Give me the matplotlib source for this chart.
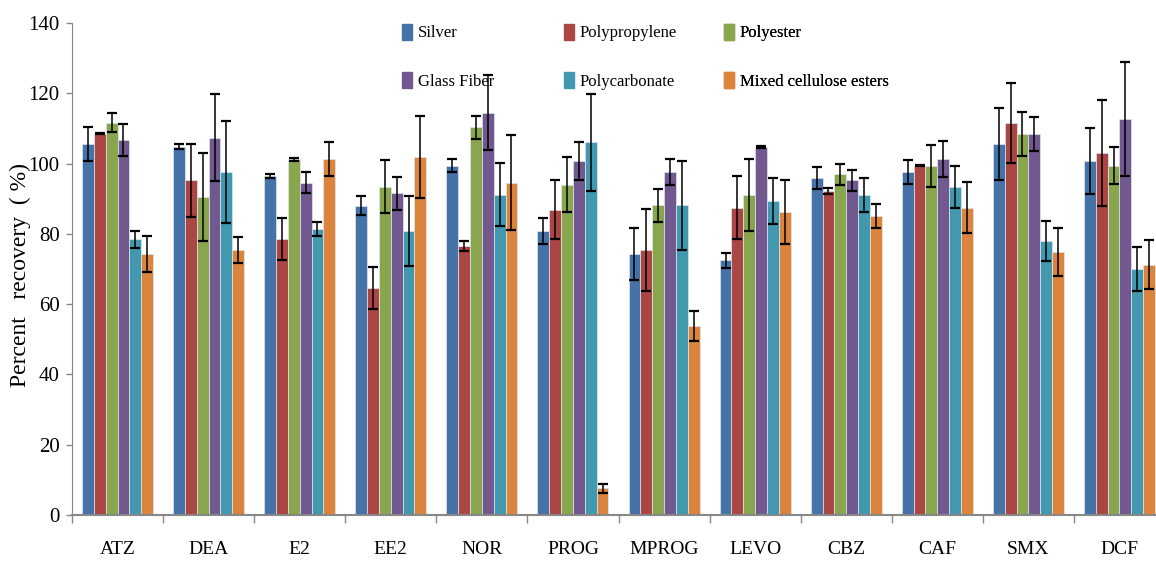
import numpy as np
import matplotlib.pyplot as plt
from matplotlib.patches import Patch

compounds = ['ATZ', 'DEA', 'E2', 'EE2', 'NOR', 'PROG', 'MPROG', 'LEVO', 'CBZ', 'CAF', 'SMX', 'DCF']
filters = ['Silver', 'Polypropylene', 'Polyester', 'Glass Fiber', 'Polycarbonate', 'Mixed cellulose esters']
colors = ['#4572A7', '#AA4643', '#89A54E', '#71588F', '#4198AF', '#DB843D']

# Mittelwerte je Filter (%)
silver = [105.5, 104.8, 96.5, 88.0, 99.4, 80.8, 74.3, 72.5, 95.9, 97.6, 105.5, 100.6]
polypropylene = [108.5, 95.2, 78.5, 64.6, 76.6, 86.8, 75.4, 87.5, 92.2, 99.4, 111.6, 103.0]
polyester = [111.6, 90.5, 101.2, 93.4, 110.3, 94.0, 88.1, 91.1, 97.0, 99.4, 108.4, 99.4]
glass_fiber = [106.7, 107.4, 94.6, 91.5, 114.5, 100.6, 97.6, 104.8, 95.2, 101.3, 108.4, 112.7]
polycarbonate = [78.5, 97.6, 81.4, 80.8, 91.1, 106.0, 88.1, 89.3, 91.1, 93.4, 77.9, 70.0]
mixed_cellulose = [74.3, 75.4, 101.3, 101.9, 94.6, 7.6, 53.8, 86.2, 85.1, 87.5, 74.8, 71.2]

# Standardabweichungen
silver_sd = [4.9, 0.7, 0.5, 2.7, 1.8, 3.6, 7.5, 2.1, 3.0, 3.4, 10.3, 9.4]
polypropylene_sd = [0.2, 10.5, 6.0, 6.0, 1.5, 8.4, 11.8, 9.0, 0.9, 0.2, 11.4, 15.0]
polyester_sd = [2.75, 12.6, 0.5, 7.5, 3.3, 7.9, 4.8, 10.2, 3.0, 6.0, 6.3, 5.2]
glass_fiber_sd = [4.5, 12.5, 3.0, 4.8, 10.6, 5.4, 3.6, 0.3, 3.1, 5.1, 4.8, 16.2]
polycarbonate_sd = [2.4, 14.4, 2.0, 10.0, 9.0, 13.9, 12.6, 6.6, 4.8, 6.0, 5.7, 6.3]
mixed_cellulose_sd = [5.2, 3.6, 4.8, 11.7, 13.6, 1.2, 4.2, 9.0, 3.4, 7.2, 6.9, 7.0]

means = [silver, polypropylene, polyester, glass_fiber, polycarbonate, mixed_cellulose]
sds = [silver_sd, polypropylene_sd, polyester_sd, glass_fiber_sd, polycarbonate_sd, mixed_cellulose_sd]

serif = 'Liberation Serif'

fig = plt.figure(figsize=(11.56, 5.68), dpi=100)
ax = fig.add_axes([72 / 1156, 53 / 568, 1093 / 1156, 492 / 568])

x = np.arange(len(compounds)) + 0.5
width = 0.13
for i in range(6):
    pos = x - 2.5 * width + i * width
    ax.bar(pos, means[i], width, color=colors[i], edgecolor='#dfe6ee', linewidth=0.5,
           yerr=sds[i], error_kw=dict(ecolor='black', elinewidth=1.1, capsize=3.6, capthick=1.6))

ax.set_xlim(0, len(compounds))
ax.set_ylim(0, 140)
ax.set_yticks(range(0, 141, 20))
ax.set_xticks(np.arange(len(compounds) + 1))
ax.set_xticklabels([])
ax.set_xticks(x, minor=True)
ax.set_xticklabels(compounds, minor=True, fontfamily=serif, fontsize=14)
ax.tick_params(axis='x', which='major', length=6, width=1, color='#888888', direction='out')
ax.tick_params(axis='x', which='minor', length=0, pad=19)
ax.tick_params(axis='y', length=4, width=1, color='#888888', pad=5, labelsize=15)
for lab in ax.get_yticklabels():
    lab.set_fontfamily(serif)

for s in ['top', 'right']:
    ax.spines[s].set_visible(False)
ax.spines['left'].set_color('#888888')
ax.spines['bottom'].set_color('#888888')
ax.spines['bottom'].set_linewidth(1.5)

fig.text(0.018, 0.516, 'Percent   recovery  ( %)', rotation=90, ha='center', va='center',
         fontfamily=serif, fontsize=17)

# Legende: drei Spalten, je zwei Einträge
col_x = [395, 557, 717]
for c in range(3):
    handles = [Patch(color=colors[c]), Patch(color=colors[c + 3])]
    leg = ax.legend(handles, [filters[c], filters[c + 3]], loc='upper left',
                    bbox_to_anchor=((col_x[c] - 72) / 1093, 1.012), frameon=False,
                    handlelength=0.6, handleheight=1.1, handletextpad=0.35,
                    labelspacing=1.85, borderaxespad=0.0,
                    prop=dict(family=serif, size=12))
    ax.add_artist(leg)

fig.savefig('out.png', dpi=100)
